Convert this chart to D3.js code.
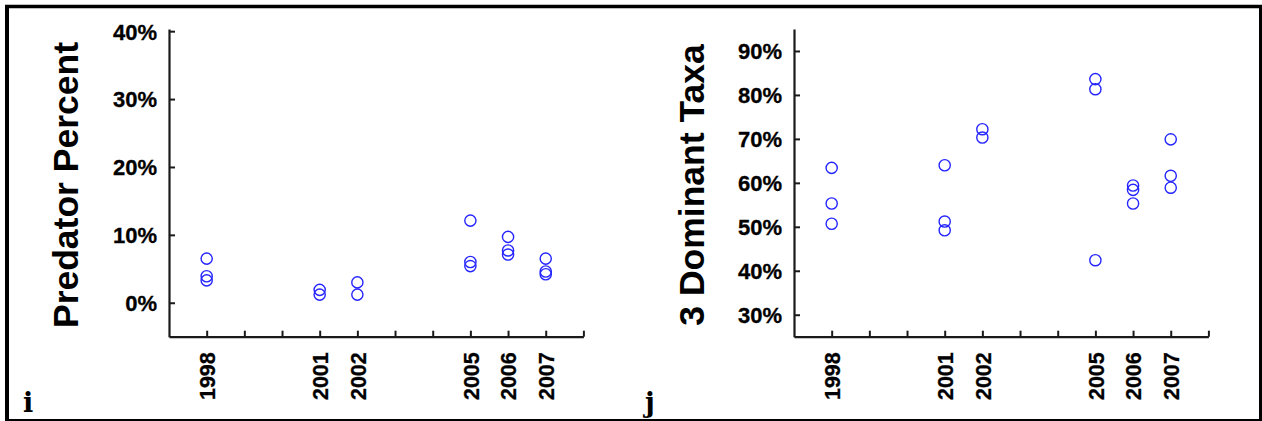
<!DOCTYPE html>
<html>
<head>
<meta charset="utf-8">
<script src="https://cdn.jsdelivr.net/npm/d3@7"></script>
<style>
  html, body { margin: 0; padding: 0; background: #fff; }
  svg { display: block; }
  .tick text { font-family: "Liberation Sans", Arial, sans-serif; font-weight: bold; fill: #000; }
</style>
</head>
<body>
<svg id="fig" width="1262" height="421"></svg>
<script>
// Sampling years shown on the x axis
const years = [1998, 2001, 2002, 2005, 2006, 2007];

// Panel i: predator percentage per sample (fraction)
const predatorYears  = [1998, 1998, 1998, 2001, 2001, 2002, 2002, 2005, 2005, 2005, 2006, 2006, 2006, 2007, 2007, 2007];
const predatorValues = [0.065, 0.039, 0.033, 0.019, 0.012, 0.030, 0.012, 0.121, 0.060, 0.054, 0.097, 0.077, 0.071, 0.065, 0.046, 0.042];

// Panel j: share of the three dominant taxa per sample (fraction)
const dominantYears  = [1998, 1998, 1998, 2001, 2001, 2001, 2002, 2002, 2005, 2005, 2005, 2006, 2006, 2006, 2007, 2007, 2007];
const dominantValues = [0.634, 0.553, 0.507, 0.640, 0.512, 0.492, 0.722, 0.703, 0.836, 0.813, 0.424, 0.594, 0.584, 0.553, 0.699, 0.616, 0.589];

// Tick labels
const predatorTicks = [0, 0.1, 0.2, 0.3, 0.4];
const dominantTicks = [0.3, 0.4, 0.5, 0.6, 0.7, 0.8, 0.9];

const svg = d3.select("#fig");
const ink = "#1a1a1a";
const markBlue = "#2525ff";
const fmtPct = d3.format(".0%");

// Frame around the figure
svg.append("rect").attr("x", 0).attr("y", 0).attr("width", 1262).attr("height", 421).attr("fill", "#fff");
svg.append("line").attr("x1", 5).attr("x2", 1262).attr("y1", 6.5).attr("y2", 6.5).attr("stroke", "#000").attr("stroke-width", 3.5);
svg.append("line").attr("x1", 7).attr("x2", 7).attr("y1", 5).attr("y2", 421).attr("stroke", "#000").attr("stroke-width", 4);
svg.append("line").attr("x1", 1260.5).attr("x2", 1260.5).attr("y1", 5).attr("y2", 421).attr("stroke", "#000").attr("stroke-width", 3);
svg.append("line").attr("x1", 5).attr("x2", 1262).attr("y1", 420).attr("y2", 420).attr("stroke", "#000").attr("stroke-width", 2);

function panel(opts) {
  const g = svg.append("g");
  const x = d3.scaleLinear().domain([1997, 2008]).range([opts.left, opts.left + 414.4]);
  const y = d3.scaleLinear().domain(opts.yDomain).range([336.7, 29]);

  // x axis: ticks every year, pointing inward, labels only for sampled years
  const xAxis = d3.axisBottom(x)
    .tickValues(d3.range(1998, 2009))
    .tickSizeInner(-6).tickSizeOuter(0)
    .tickFormat(d => years.includes(d) ? String(d) : "");
  const gx = g.append("g").attr("transform", `translate(0,336.7)`).call(xAxis);
  gx.select(".domain").attr("stroke", ink).attr("stroke-width", 2.2);
  gx.selectAll(".tick line").attr("stroke", ink).attr("stroke-width", 2);
  gx.selectAll(".tick text")
    .attr("font-size", 21.5)
    .attr("stroke", "#000").attr("stroke-width", 0.3)
    .attr("transform", "rotate(-90)")
    .attr("text-anchor", "end")
    .attr("x", -15.5)
    .attr("y", 0)
    .attr("dy", "0.36em");

  // y axis: ticks pointing inward
  const yAxis = d3.axisLeft(y)
    .tickValues(opts.ticks)
    .tickSizeInner(-6).tickSizeOuter(0)
    .tickFormat(fmtPct);
  const gy = g.append("g").attr("transform", `translate(${opts.left},0)`).call(yAxis);
  gy.select(".domain").attr("stroke", ink).attr("stroke-width", 2.2);
  gy.selectAll(".tick line").attr("stroke", ink).attr("stroke-width", 2);
  gy.selectAll(".tick text")
    .attr("font-size", 22)
    .attr("stroke", "#000").attr("stroke-width", 0.3)
    .attr("x", -12)
    .attr("dy", "0.36em");

  // Axis title
  g.append("text")
    .attr("transform", `translate(${opts.titleX},185) rotate(-90)`)
    .attr("text-anchor", "middle")
    .attr("font-family", "Liberation Sans, Arial, sans-serif")
    .attr("font-weight", "bold")
    .attr("font-size", 35.5)
    .attr("fill", "#000")
    .text(opts.title);

  // Samples as open circles
  g.append("g").selectAll("circle")
    .data(d3.zip(opts.xs, opts.vs))
    .join("circle")
    .attr("cx", d => x(d[0]))
    .attr("cy", d => y(d[1]))
    .attr("r", 5.6)
    .attr("fill", "none")
    .attr("stroke", markBlue)
    .attr("stroke-width", 1.4);

  // Panel letter
  g.append("text")
    .attr("x", opts.letterX)
    .attr("y", 412)
    .attr("font-family", "DejaVu Serif, serif")
    .attr("font-weight", "bold")
    .attr("font-size", 27)
    .attr("fill", "#000")
    .text(opts.letter);
}

panel({
  left: 169, yDomain: [-0.05, 0.4032], ticks: predatorTicks,
  xs: predatorYears, vs: predatorValues,
  title: "Predator Percent", titleX: 78, letter: "i", letterX: 23
});

panel({
  left: 794, yDomain: [0.25, 0.95], ticks: dominantTicks,
  xs: dominantYears, vs: dominantValues,
  title: "3 Dominant Taxa", titleX: 704, letter: "j", letterX: 645
});
</script>
</body>
</html>
